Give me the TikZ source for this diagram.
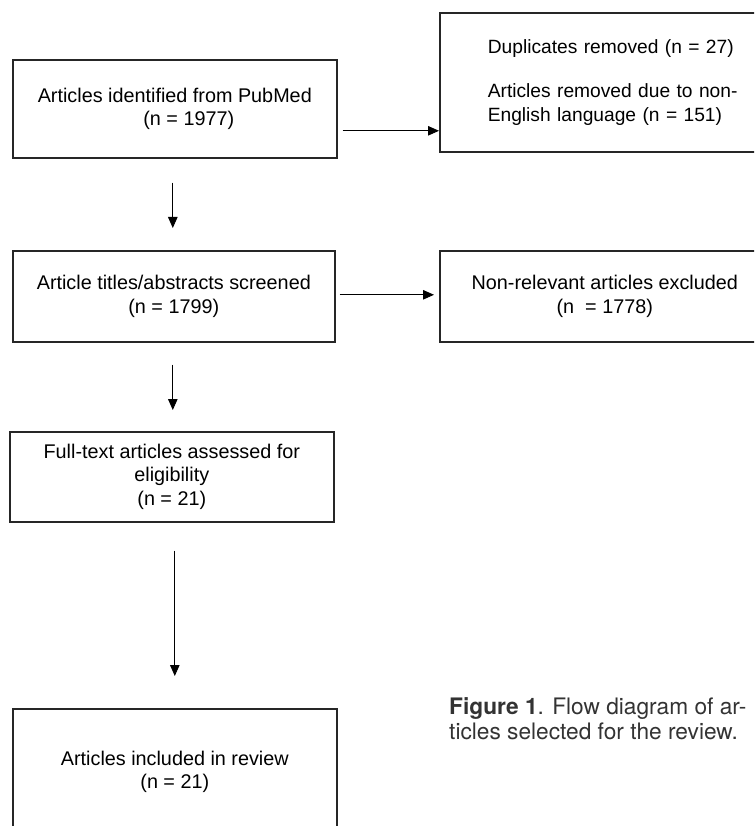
\documentclass[tikz,border=0pt]{standalone}
\usepackage{fontspec}
\setmainfont{Liberation Sans}
\newfontfamily\capfont{TeX Gyre Heros}
\usetikzlibrary{arrows.meta}
\begin{document}
\begin{tikzpicture}[x=1pt,y=-1pt,
  boxstyle/.style={draw=black!85,line width=1.6pt,rectangle,inner sep=0pt,align=center,
    font=\fontsize{19.8}{23.5}\selectfont},
  arr/.style={line width=0.9pt,-{Triangle[length=11pt,width=9.5pt]}}]
\useasboundingbox (0,0) rectangle (754,826);
\clip (0,0) rectangle (754,826);
% boxes
\node[boxstyle,minimum width=324pt,minimum height=98pt,anchor=north west] (b1) at (12,59)
  {Articles identified from PubMed\\\hspace*{28pt}(n = 1977)};
\node[boxstyle,minimum height=139pt,anchor=north west,text width=290pt,align=left,inner xsep=48pt,
  font=\fontsize{19.2}{23.5}\selectfont] (dup) at (439,12)
  {Duplicates removed (n = 27)\\[21pt]Articles removed due to non-\\English language (n = 151)};
\node[boxstyle,minimum width=322pt,minimum height=91pt,anchor=north west] (b2) at (12,250)
  {Article titles/abstracts screened\\(n = 1799)};
\node[boxstyle,minimum width=330pt,minimum height=91pt,anchor=north west] (b3) at (439,250)
  {Non-relevant articles excluded\\(n \ = 1778)};
\node[boxstyle,minimum width=324pt,minimum height=90pt,anchor=north west] (b4) at (9,431)
  {Full-text articles assessed for\\eligibility\\(n = 21)};
\node[boxstyle,minimum width=324pt,minimum height=126pt,anchor=north west] (b5) at (12,708)
  {Articles included in review\\(n = 21)};
% caption
\node[anchor=north west,align=left,text=black!80,font=\capfont\fontsize{22.7}{25}\selectfont,inner sep=0pt] (cap) at (449,697)
  {\textbf{Figure 1}. Flow diagram of ar-\\ticles selected for the review.};
% connectors
\draw[arr] ([xshift=5pt,yshift=-22pt]b1.east) coordinate (a1) -- (a1 -| dup.west);
\draw[arr,shorten >=5pt] ([xshift=4pt,yshift=1.5pt]b2.east) coordinate (a2) -- (a2 -| b3.west);
\draw[arr] ([xshift=-2pt,yshift=-24pt]b1.south) coordinate (a3) -- ([yshift=22pt]a3 |- b2.north);
\draw[arr] ([xshift=-1pt,yshift=-22pt]b2.south) coordinate (a4) -- ([yshift=21pt]a4 |- b4.north);
\draw[arr] ([xshift=3pt,yshift=-28pt]b4.south) coordinate (a5) -- ([yshift=32pt]a5 |- b5.north);
\end{tikzpicture}
\end{document}
